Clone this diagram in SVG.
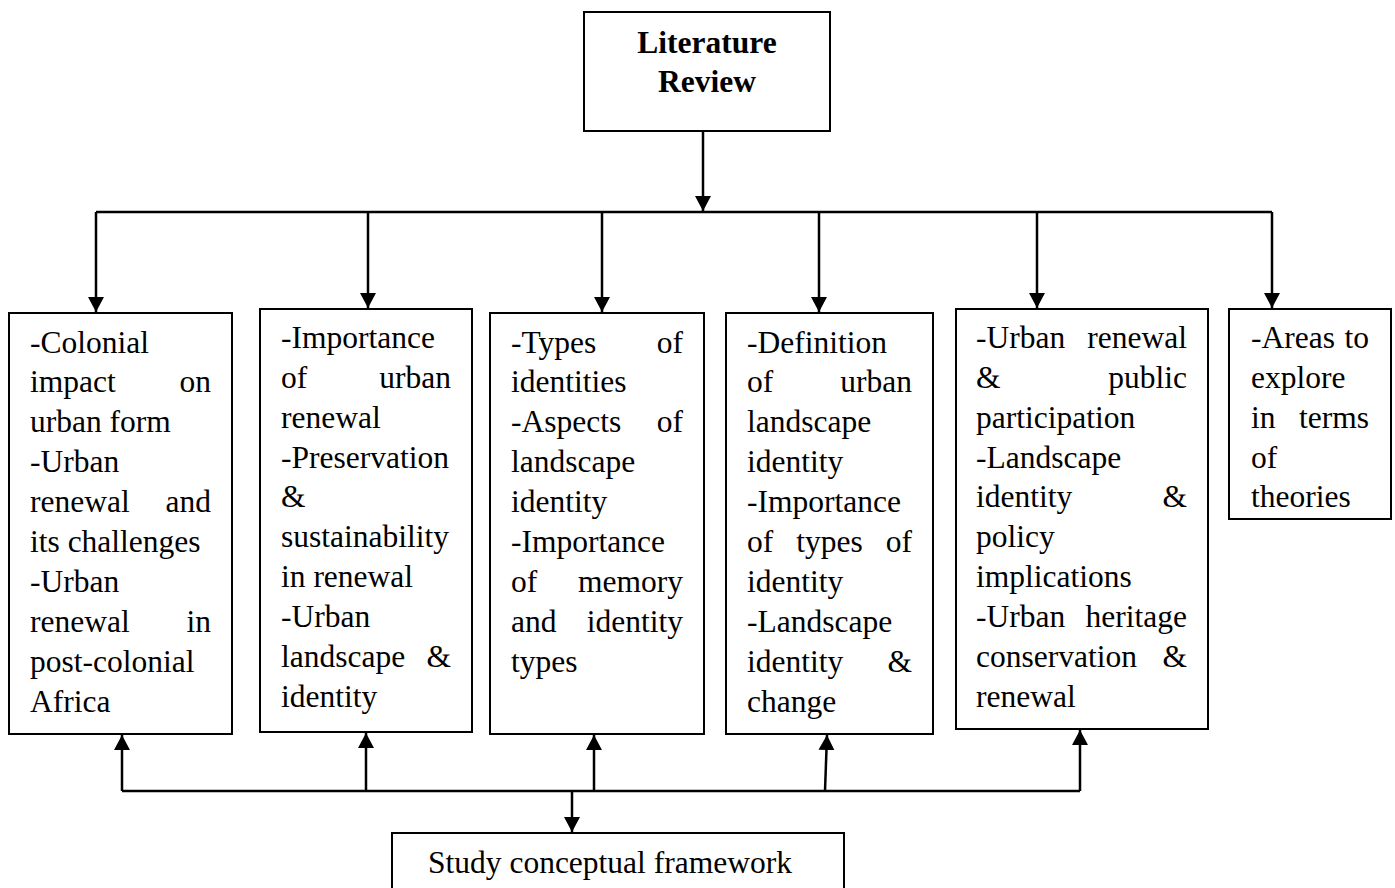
<svg xmlns="http://www.w3.org/2000/svg" width="1395" height="888" viewBox="0 0 1395 888">
<style>
.box{fill:#fff;stroke:#000;stroke-width:2}
.t{font-family:"Liberation Serif","Times New Roman",serif;font-size:31.5px;fill:#000}
.b{font-weight:bold}
.e{text-anchor:end}
.m{text-anchor:middle}
.c{fill:none;stroke:#000;stroke-width:2.5}
</style>
<defs>
<marker id="ah" markerUnits="userSpaceOnUse" markerWidth="17" markerHeight="17" refX="15" refY="8" orient="auto">
<path d="M0,0 L15,8 L0,16 z" fill="#000"/>
</marker>
</defs>
<rect width="1395" height="888" fill="#fff"/>
<g id="connectors">
<path class="c" d="M703,131 V211" marker-end="url(#ah)"/>
<path class="c" d="M96,212 H1272"/>
<path class="c" d="M96,212 V312" marker-end="url(#ah)"/>
<path class="c" d="M368,212 V308" marker-end="url(#ah)"/>
<path class="c" d="M602,212 V312" marker-end="url(#ah)"/>
<path class="c" d="M819,212 V312" marker-end="url(#ah)"/>
<path class="c" d="M1037,212 V308" marker-end="url(#ah)"/>
<path class="c" d="M1272,212 V308" marker-end="url(#ah)"/>
<path class="c" d="M122,791 H1080"/>
<path class="c" d="M122,791 V735" marker-end="url(#ah)"/>
<path class="c" d="M366,791 V733" marker-end="url(#ah)"/>
<path class="c" d="M594,791 V735" marker-end="url(#ah)"/>
<path class="c" d="M825,791 L827,735" marker-end="url(#ah)"/>
<path class="c" d="M1080,791 V730" marker-end="url(#ah)"/>
<path class="c" d="M572,791 V832" marker-end="url(#ah)"/>
</g>
<g id="literature-review">
<rect class="box" x="584" y="12" width="246" height="119"/>
<text class="t b m" x="707" y="53">Literature</text>
<text class="t b m" x="707" y="92">Review</text>
</g>
<g id="box1">
<rect class="box" x="9" y="313" width="223" height="421"/>
<text class="t" x="30" y="352.5">-Colonial</text>
<text class="t" x="30" y="392.4">impact</text><text class="t e" x="211" y="392.4">on</text>
<text class="t" x="30" y="432.3">urban form</text>
<text class="t" x="30" y="472.2">-Urban</text>
<text class="t" x="30" y="512.1">renewal</text><text class="t e" x="211" y="512.1">and</text>
<text class="t" x="30" y="552">its challenges</text>
<text class="t" x="30" y="591.9">-Urban</text>
<text class="t" x="30" y="631.8">renewal</text><text class="t e" x="211" y="631.8">in</text>
<text class="t" x="30" y="671.7">post-colonial</text>
<text class="t" x="30" y="711.6">Africa</text>
</g>
<g id="box2">
<rect class="box" x="260" y="309" width="212" height="423"/>
<text class="t" x="281" y="347.8">-Importance</text>
<text class="t" x="281" y="387.7">of</text><text class="t e" x="451" y="387.7">urban</text>
<text class="t" x="281" y="427.6">renewal</text>
<text class="t" x="281" y="467.5">-Preservation</text>
<text class="t" x="281" y="507.4">&amp;</text>
<text class="t" x="281" y="547.3">sustainability</text>
<text class="t" x="281" y="587.2">in renewal</text>
<text class="t" x="281" y="627.1">-Urban</text>
<text class="t" x="281" y="667">landscape</text><text class="t e" x="451" y="667">&amp;</text>
<text class="t" x="281" y="706.9">identity</text>
</g>
<g id="box3">
<rect class="box" x="490" y="313" width="214" height="421"/>
<text class="t" x="511" y="352.5">-Types</text><text class="t e" x="683" y="352.5">of</text>
<text class="t" x="511" y="392.4">identities</text>
<text class="t" x="511" y="432.3">-Aspects</text><text class="t e" x="683" y="432.3">of</text>
<text class="t" x="511" y="472.2">landscape</text>
<text class="t" x="511" y="512.1">identity</text>
<text class="t" x="511" y="552">-Importance</text>
<text class="t" x="511" y="591.9">of</text><text class="t e" x="683" y="591.9">memory</text>
<text class="t" x="511" y="631.8">and</text><text class="t e" x="683" y="631.8">identity</text>
<text class="t" x="511" y="671.7">types</text>
</g>
<g id="box4">
<rect class="box" x="726" y="313" width="207" height="421"/>
<text class="t" x="747" y="352.5">-Definition</text>
<text class="t" x="747" y="392.4">of</text><text class="t e" x="912" y="392.4">urban</text>
<text class="t" x="747" y="432.3">landscape</text>
<text class="t" x="747" y="472.2">identity</text>
<text class="t" x="747" y="512.1">-Importance</text>
<text class="t" x="747" y="552">of</text><text class="t m" x="829.5" y="552">types</text><text class="t e" x="912" y="552">of</text>
<text class="t" x="747" y="591.9">identity</text>
<text class="t" x="747" y="631.8">-Landscape</text>
<text class="t" x="747" y="671.7">identity</text><text class="t e" x="912" y="671.7">&amp;</text>
<text class="t" x="747" y="711.6">change</text>
</g>
<g id="box5">
<rect class="box" x="956" y="309" width="252" height="420"/>
<text class="t" x="976" y="347.8">-Urban</text><text class="t e" x="1187" y="347.8">renewal</text>
<text class="t" x="976" y="387.7">&amp;</text><text class="t e" x="1187" y="387.7">public</text>
<text class="t" x="976" y="427.6">participation</text>
<text class="t" x="976" y="467.5">-Landscape</text>
<text class="t" x="976" y="507.4">identity</text><text class="t e" x="1187" y="507.4">&amp;</text>
<text class="t" x="976" y="547.3">policy</text>
<text class="t" x="976" y="587.2">implications</text>
<text class="t" x="976" y="627.1">-Urban</text><text class="t e" x="1187" y="627.1">heritage</text>
<text class="t" x="976" y="667">conservation</text><text class="t e" x="1187" y="667">&amp;</text>
<text class="t" x="976" y="706.9">renewal</text>
</g>
<g id="box6">
<rect class="box" x="1229" y="309" width="162" height="210"/>
<text class="t" x="1251" y="347.8">-Areas</text><text class="t e" x="1369" y="347.8">to</text>
<text class="t" x="1251" y="387.7">explore</text>
<text class="t" x="1251" y="427.6">in</text><text class="t e" x="1369" y="427.6">terms</text>
<text class="t" x="1251" y="467.5">of</text>
<text class="t" x="1251" y="507.4">theories</text>
</g>
<g id="study-framework">
<rect class="box" x="392" y="833" width="452" height="70"/>
<text class="t" x="428" y="873">Study conceptual framework</text>
</g>
</svg>
